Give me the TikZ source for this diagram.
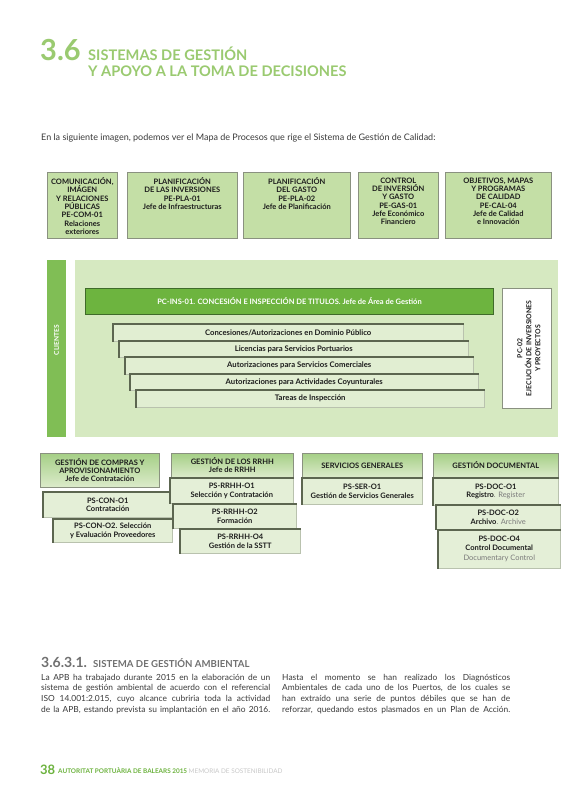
\documentclass[tikz,border=0pt]{standalone}
\usepackage{fontspec}
\setmainfont{Lato}
\definecolor{titlegreen}{HTML}{9ACA70}
\definecolor{boxfill}{HTML}{C4DFA6}
\definecolor{boxline}{HTML}{8A9180}
\definecolor{bgfill}{HTML}{D6E9C1}
\definecolor{clientfill}{HTML}{80BE55}
\definecolor{insfill}{HTML}{6DB43F}
\definecolor{insline}{HTML}{3F6B2A}
\definecolor{stairfill}{HTML}{E1EED2}
\definecolor{stairshadow}{HTML}{5C6650}
\definecolor{lightline}{HTML}{B9C2AE}
\definecolor{hdtop}{HTML}{A5CF86}
\definecolor{hdbot}{HTML}{DCEBCB}
\definecolor{subfill}{HTML}{E4EFD7}
\definecolor{inktext}{HTML}{1C1C1C}
\definecolor{greyhead}{HTML}{707070}
\definecolor{bodytext}{HTML}{3A3A3A}
\definecolor{softgrey}{HTML}{7A7A7A}
\definecolor{lightgrey}{HTML}{C8C8C8}
\definecolor{footgreen}{HTML}{6DB33F}
\newcommand\stairedge[1]{\draw[shadowline] (#1.south west) -- (#1.north west) -- (#1.north east);}
\newcommand\jline[2]{\makebox[#1][s]{#2}}
\begin{document}
\begin{tikzpicture}[x=1pt,y=-1pt,
  txt/.style={inner sep=0pt, text=inktext},
  topbox/.style={draw=boxline, fill=boxfill, line width=0.6pt, anchor=north west, inner sep=0pt},
  toptext/.style={txt, anchor=north, align=center, font=\fontsize{7.5}{8.3}\selectfont\bfseries},
  stair/.style={fill=stairfill, draw=lightline, line width=0.5pt, anchor=north west, inner sep=0pt, text=inktext, font=\fontsize{7.7}{8}\selectfont\bfseries},
  shadowline/.style={draw=stairshadow, line width=1.6pt},
  header/.style={top color=hdtop, bottom color=hdbot, draw=boxline, line width=0.6pt, anchor=north west, inner sep=0pt, align=center, text=inktext, font=\fontsize{7.5}{8.1}\selectfont\bfseries},
  sub/.style={fill=subfill, draw=lightline, line width=0.5pt, anchor=north west, inner sep=0pt, align=center, text=inktext, font=\fontsize{7.5}{8.3}\selectfont\bfseries},
  para/.style={inner sep=0pt, anchor=north west, align=left, text=bodytext, font=\fontsize{8.4}{10.6}\selectfont}
]
\useasboundingbox[fill=white] (0,0) rectangle (565,800);

% title
\node[txt, anchor=base west, text=titlegreen, font=\fontsize{29}{29}\selectfont\bfseries] (num) at (40,61) {3.6};
\node[txt, anchor=base west, text=titlegreen, font=\fontsize{14.6}{16}\selectfont\bfseries] (title1) at (88,61) {SISTEMAS DE GESTIÓN};
\node[txt, anchor=base west, text=titlegreen, font=\fontsize{14.6}{16}\selectfont\bfseries] (title2) at (88,77) {Y APOYO A LA TOMA DE DECISIONES};

% intro
\node[txt, anchor=base west, text=bodytext, font=\fontsize{9}{10}\selectfont] (intro) at (41,140) {En la siguiente imagen, podemos ver el Mapa de Procesos que rige el Sistema de Gestión de Calidad:};

% top boxes
\node[topbox, minimum width=70, minimum height=66] (t1) at (47,172) {};
\node[toptext] (t1t) at ([yshift=-5.5pt]t1.north) {COMUNICACIÓN,\\IMÁGEN\\Y RELACIONES\\PÚBLICAS\\PE-COM-01\\Relaciones\\exteriores};
\node[topbox, minimum width=110, minimum height=66] (t2) at (127,172) {};
\node[toptext] (t2t) at ([yshift=-5.5pt]t2.north) {PLANIFICACIÓN\\DE LAS INVERSIONES\\PE-PLA-01\\Jefe de Infraestructuras};
\node[topbox, minimum width=107, minimum height=66] (t3) at (243,172) {};
\node[toptext] (t3t) at ([yshift=-5.5pt]t3.north) {PLANIFICACIÓN\\DEL GASTO\\PE-PLA-02\\Jefe de Planificación};
\node[topbox, minimum width=80, minimum height=66] (t4) at (358,172) {};
\node[toptext] (t4t) at ([yshift=-5.5pt]t4.north) {CONTROL\\DE INVERSIÓN\\Y GASTO\\PE-GAS-01\\Jefe Económico\\Financiero};
\node[topbox, minimum width=106, minimum height=66] (t5) at (445,172) {};
\node[toptext] (t5t) at ([yshift=-5.5pt]t5.north) {OBJETIVOS, MAPAS\\Y PROGRAMAS\\DE CALIDAD\\PE-CAL-04\\Jefe de Calidad\\e Innovación};

% middle block
\node[fill=clientfill, anchor=north west, inner sep=0pt, minimum width=19, minimum height=177] (cl) at (47,260) {};
\node[txt, rotate=90, text=white, font=\fontsize{6.6}{8}\selectfont\bfseries] (clt) at (56.5,340) {CLIENTES};
\node[fill=bgfill, anchor=north west, inner sep=0pt, minimum width=483, minimum height=177] (bg) at (75,260) {};

\node[fill=insfill, draw=insline, line width=1pt, anchor=north west, inner sep=0pt, minimum width=408, minimum height=26, text=white, font=\fontsize{7.5}{8}\selectfont\bfseries] (ins) at (85,288) {PC-INS-01. CONCESIÓN E INSPECCIÓN DE TITULOS. Jefe de Área de Gestión};

\node[fill=white, draw=boxline, line width=0.6pt, anchor=north west, inner sep=0pt, minimum width=49, minimum height=120] (pc02) at (502,288) {};
\node[txt, rotate=90, align=center, font=\fontsize{6.9}{9}\selectfont\bfseries] (pc02t) at ([xshift=2pt]pc02.center) {PC-02\\EJECUCIÓN DE INVERSIONES\\Y PROYECTOS};

\node[stair, minimum width=350, minimum height=17] (s1) at (113,324) {Concesiones/Autorizaciones en Dominio Público};
\stairedge{s1}
\node[stair, minimum width=349, minimum height=16] (s2) at (119,341) {Licencias para Servicios Portuarios};
\stairedge{s2}
\node[stair, minimum width=348, minimum height=17] (s3) at (125,357) {Autorizaciones para Servicios Comerciales};
\stairedge{s3}
\node[stair, minimum width=348, minimum height=16] (s4) at (130,374) {Autorizaciones para Actividades Coyunturales};
\stairedge{s4}
\node[stair, minimum width=348, minimum height=17] (s5) at (136,390) {Tareas de Inspección};
\stairedge{s5}

% bottom groups
\node[header, minimum width=119, minimum height=34] (h1) at (40,453) {GESTIÓN DE COMPRAS Y\\APROVISIONAMIENTO\\Jefe de Contratación};
\node[sub, minimum width=129, minimum height=25] (c1) at (43,492) {PS-CON-O1\\Contratación};
\stairedge{c1}
\node[sub, minimum width=119, minimum height=23] (c2) at (53,519) {PS-CON-O2. Selección\\y Evaluación Proveedores};
\stairedge{c2}

\node[header, minimum width=122, minimum height=24] (h2) at (171,453) {GESTIÓN DE LOS RRHH\\Jefe de RRHH};
\node[sub, minimum width=123, minimum height=25] (r1) at (170,478) {PS-RRHH-O1\\Selección y Contratación};
\stairedge{r1}
\node[sub, minimum width=123, minimum height=24] (r2) at (173,504) {PS-RRHH-O2\\Formación};
\stairedge{r2}
\node[sub, minimum width=120, minimum height=24] (r3) at (180,529) {PS-RRHH-O4\\Gestión de la SSTT};
\stairedge{r3}

\node[header, minimum width=120, minimum height=24] (h3) at (302,453) {SERVICIOS GENERALES};
\node[sub, minimum width=120, minimum height=26] (g1) at (302,478) {PS-SER-O1\\Gestión de Servicios Generales};
\stairedge{g1}

\node[header, minimum width=125, minimum height=24] (h4) at (433,453) {GESTIÓN DOCUMENTAL};
\node[sub, minimum width=125, minimum height=27] (d1) at (433,478) {PS-DOC-O1\\Registro{\mdseries\color{softgrey}. Register}};
\stairedge{d1}
\node[sub, minimum width=124, minimum height=24] (d2) at (436,505) {PS-DOC-O2\\Archivo{\mdseries\color{softgrey}. Archive}};
\stairedge{d2}
\node[sub, minimum width=122, minimum height=38] (d3) at (438,530) {PS-DOC-O4\\Control Documental\\[2.5pt]{\mdseries\color{softgrey}Documentary Control}};
\stairedge{d3}

% section text
\node[txt, anchor=base west, text=greyhead, font=\fontsize{14}{14}\selectfont\bfseries] (secnum) at (41,667) {3.6.3.1.};
\node[txt, anchor=base west, text=greyhead, font=\fontsize{9.6}{10}\selectfont\bfseries] (sectitle) at (93,667) {SISTEMA DE GESTIÓN AMBIENTAL};

\node[para] (pl) at (41,674) {\jline{229pt}{La APB ha trabajado durante 2015 en la elaboración de un}\\
\jline{229pt}{sistema de gestión ambiental de acuerdo con el referencial}\\
\jline{229pt}{ISO 14.001:2.015, cuyo alcance cubriria toda la actividad}\\
\jline{229pt}{de la APB, estando prevista su implantación en el año 2016.}};
\node[para] (pr) at (282,674) {\jline{228pt}{Hasta el momento se han realizado los Diagnósticos}\\
\jline{228pt}{Ambientales de cada uno de los Puertos, de los cuales se}\\
\jline{228pt}{han extraído una serie de puntos débiles que se han de}\\
\jline{228pt}{reforzar, quedando estos plasmados en un Plan de Acción.}};

% footer
\node[txt, anchor=base west, text=footgreen, font=\fontsize{13}{13}\selectfont\bfseries] (pg) at (40,774) {38};
\node[txt, anchor=base west, text=footgreen, font=\fontsize{6.4}{7}\selectfont\bfseries] (ft1) at (58,773) {AUTORITAT PORTUÀRIA DE BALEARS 2015};
\node[txt, anchor=base west, text=lightgrey, font=\fontsize{6.4}{7}\selectfont] (ft2) at (ft1.base east) {\,MEMORIA DE SOSTENIBILIDAD};
\end{tikzpicture}
\end{document}
